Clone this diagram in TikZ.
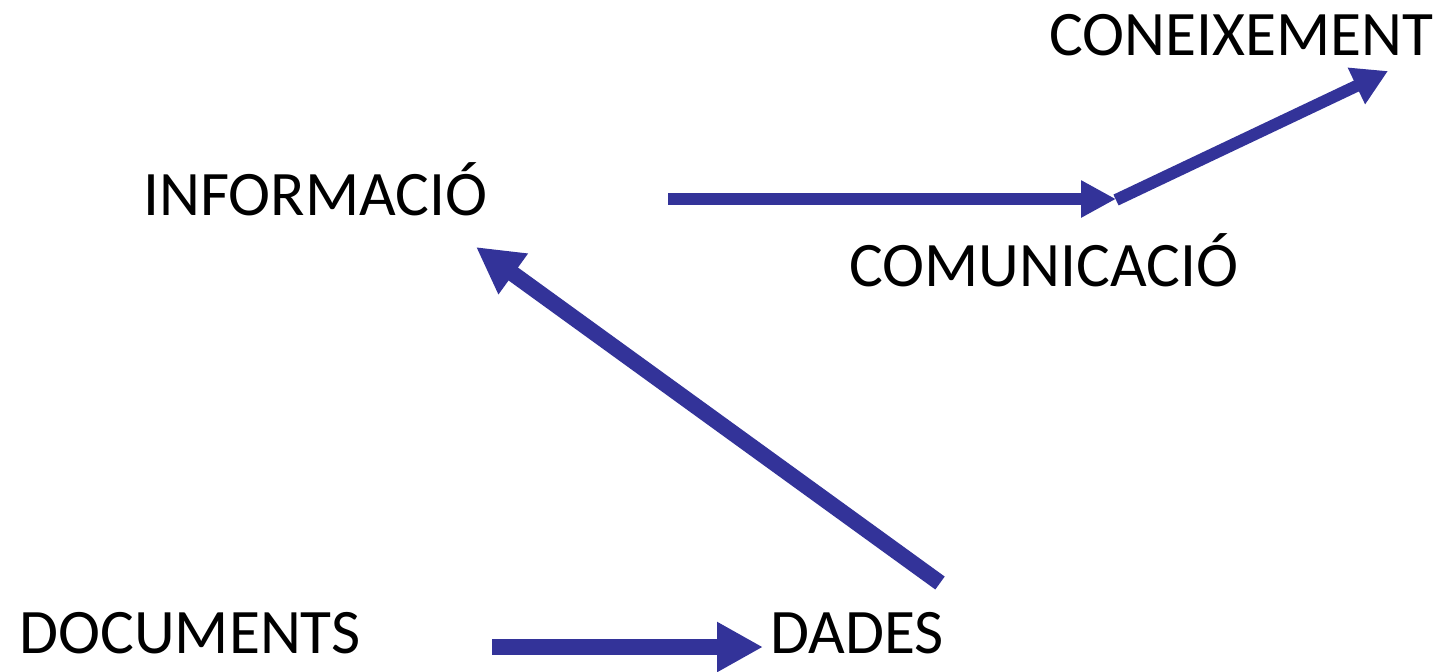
\documentclass[tikz,border=0pt]{standalone}
\usepackage{fontspec}
\setmainfont{Carlito}
\usetikzlibrary{arrows.meta,calc}
\definecolor{flow}{RGB}{51,51,153}
\begin{document}
\begin{tikzpicture}[x=0.5pt,y=-0.5pt,
  label/.style={anchor=base west,inner sep=0pt,font=\fontsize{31.7}{36}\selectfont},
  bigarrow/.style={draw=flow,line width=8pt,-{Triangle[length=23pt,width=23.5pt]}},
  smallarrow/.style={draw=flow,line width=6pt,-{Triangle[length=17.5pt,width=17.5pt]}}]
  \useasboundingbox (0,0) rectangle (1443,671);

  % terms
  \node[label] (doc) at (19,653) {DOCUMENTS};
  \node[label] (dad) at (770,653) {DADES};
  \node[label] (inf) at (143,215) {INFORMACIÓ};
  \node[label] (com) at (849,286) {COMUNICACIÓ};
  \node[label] (con) at (1049,55) {CONEIXEMENT};

  % junction where the flow turns towards knowledge
  \coordinate (hub) at ($(com.base west)+(267,-87)$);

  % flow of the chain
  \draw[bigarrow] ($(doc.base west)+(473,-6)$) -- ($(dad.base west)+(-7,-6)$);
  \draw[bigarrow] ($(dad.base west)+(170,-70)$) -- ($(inf.base west)+(333,32)$);
  \draw[smallarrow] ($(inf.base west)+(525,-16)$) -- (hub);
  \draw[draw=flow,line width=6pt,-{Triangle[length=17.5pt,width=19pt]}] ($(hub)+(0,1)$) -- ($(con.base west)+(339,16)$);
\end{tikzpicture}
\end{document}
